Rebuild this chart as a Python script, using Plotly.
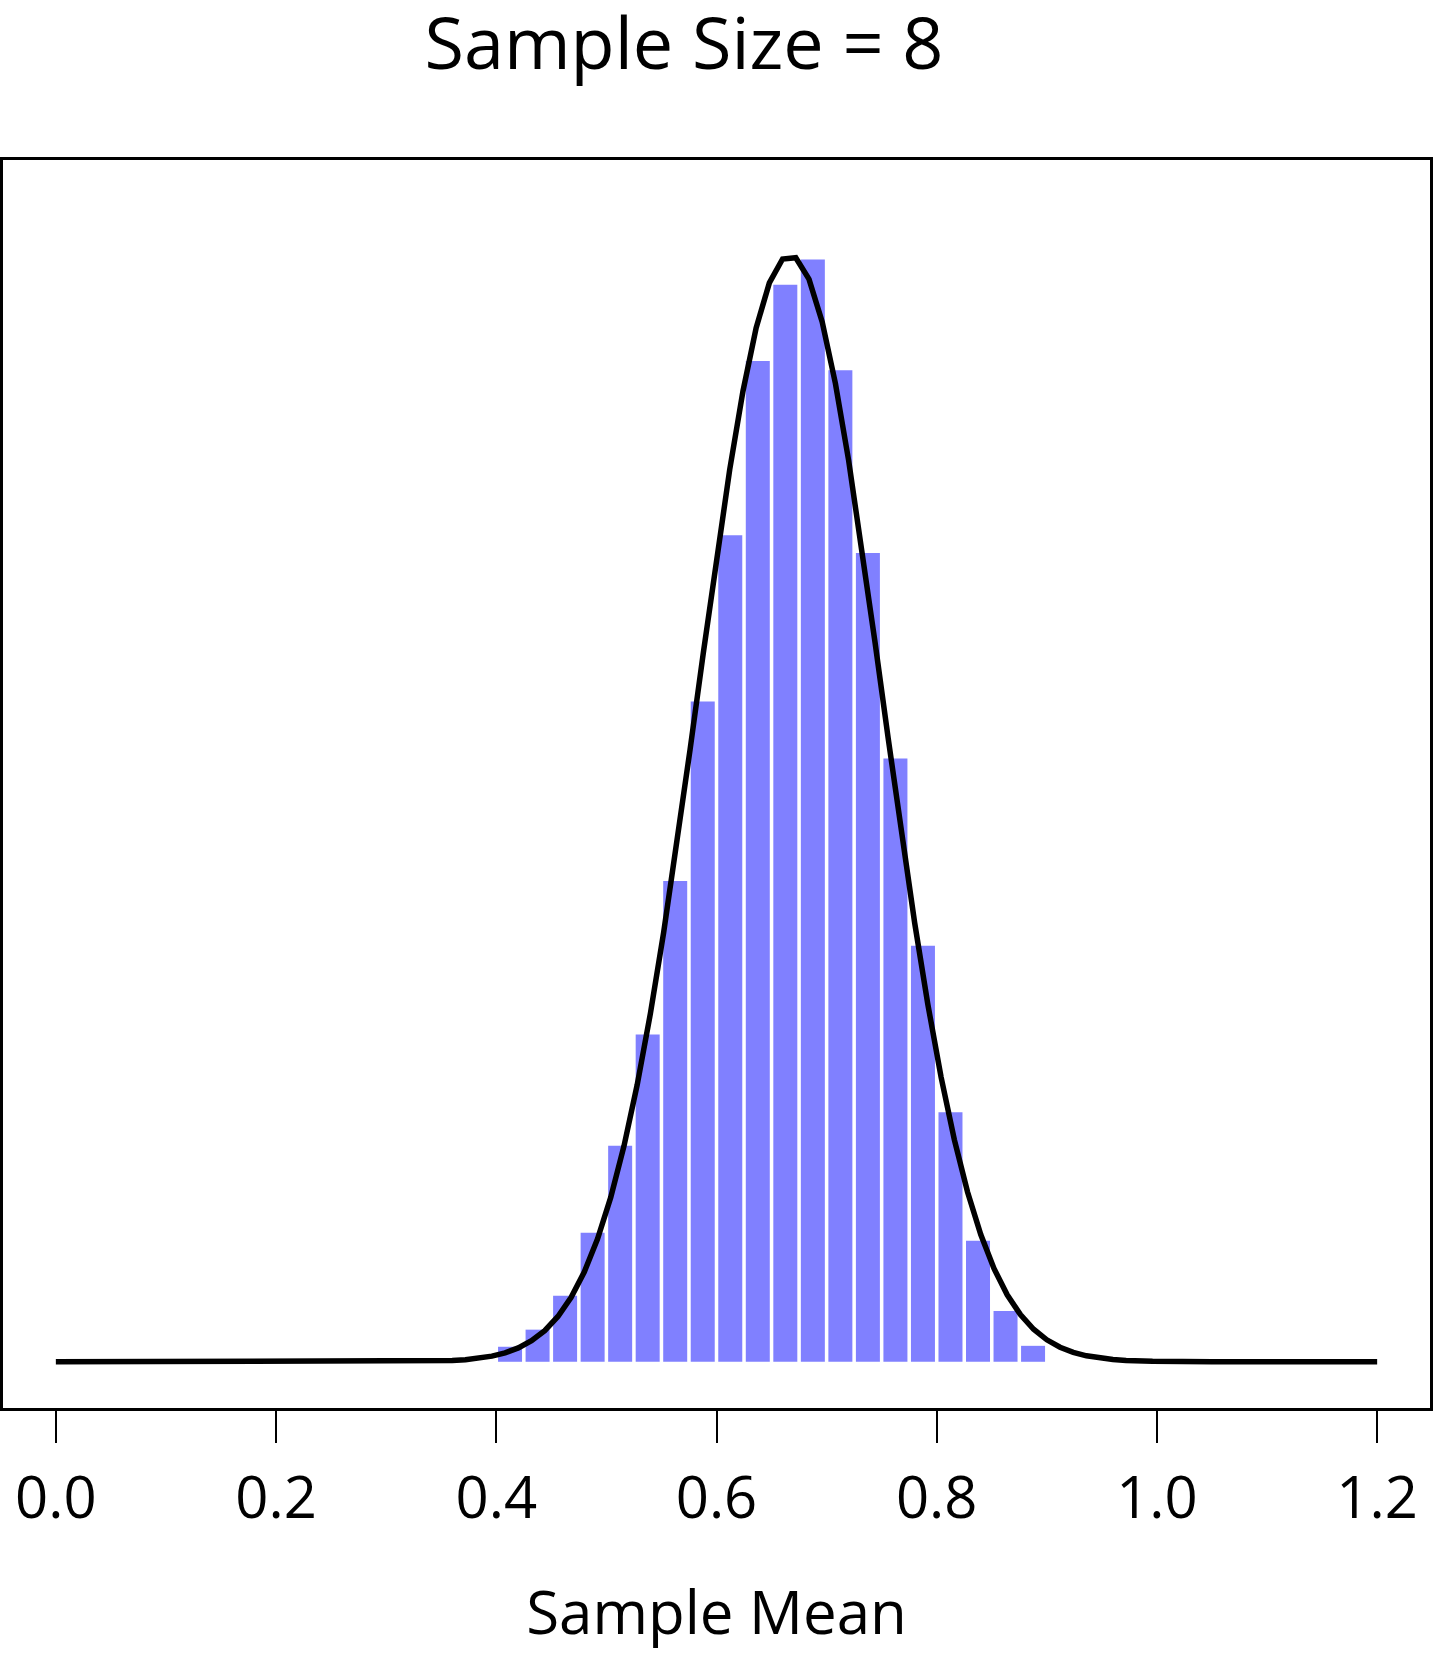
import plotly.graph_objects as go

# histogram of sample means (density), bins of width 0.025 from 0.4 to 0.9
bin_left = [0.400, 0.425, 0.450, 0.475, 0.500, 0.525, 0.550, 0.575, 0.600, 0.625,
            0.650, 0.675, 0.700, 0.725, 0.750, 0.775, 0.800, 0.825, 0.850, 0.875]
bin_density = [0.065, 0.139, 0.286, 0.558, 0.935, 1.416, 2.080, 2.857, 3.576, 4.330,
               4.660, 4.770, 4.290, 3.500, 2.610, 1.800, 1.080, 0.524, 0.220, 0.069]
bin_width = 0.025

# normal curve
curve_x = [0.0, 0.300, 0.336, 0.348, 0.360, 0.372, 0.384, 0.396, 0.408, 0.420, 0.432,
           0.444, 0.456, 0.468, 0.480, 0.492, 0.504, 0.516, 0.528, 0.540, 0.552,
           0.564, 0.576, 0.588, 0.600, 0.612, 0.624, 0.636, 0.648, 0.660, 0.672,
           0.684, 0.696, 0.708, 0.720, 0.732, 0.744, 0.756, 0.768, 0.780, 0.792,
           0.804, 0.816, 0.828, 0.840, 0.852, 0.864, 0.876, 0.888, 0.900, 0.912,
           0.924, 0.936, 0.948, 0.960, 0.972, 0.984, 0.996, 1.050, 1.200]
curve_y = [0.0, 0.0003, 0.0018, 0.0032, 0.0055, 0.0092, 0.0152, 0.0245, 0.0387, 0.0599, 0.0908,
           0.1348, 0.1960, 0.2792, 0.3895, 0.5323, 0.7123, 0.9337, 1.1990, 1.5078, 1.8574,
           2.2412, 2.6486, 3.0659, 3.4761, 3.8602, 4.1990, 4.4737, 4.6684, 4.7717, 4.7772,
           4.6846, 4.4994, 4.2330, 3.9006, 3.5204, 3.1123, 2.6948, 2.2855, 1.8985, 1.5448,
           1.2313, 0.9611, 0.7348, 0.5503, 0.4036, 0.2900, 0.2040, 0.1407, 0.0950, 0.0628,
           0.0407, 0.0258, 0.0160, 0.0098, 0.0058, 0.0034, 0.0019, 0.0001, 0.0]

tick_vals = [0.0, 0.2, 0.4, 0.6, 0.8, 1.0, 1.2]
tick_text = ["0.0", "0.2", "0.4", "0.6", "0.8", "1.0", "1.2"]

FONT = "Open Sans"

bin_mid = [b + bin_width / 2 for b in bin_left]

fig = go.Figure()
fig.add_trace(go.Bar(
    x=bin_mid, y=bin_density,
    width=bin_width - 0.0032,
    marker=dict(color="#8080ff", line=dict(width=0)),
    hoverinfo="skip",
))
fig.add_trace(go.Scatter(
    x=curve_x, y=curve_y, mode="lines",
    line=dict(color="black", width=5.5),
    hoverinfo="skip",
))

fig.update_layout(
    width=1433, height=1654,
    margin=dict(l=3, r=3, t=160, b=246),
    paper_bgcolor="white", plot_bgcolor="white",
    showlegend=False,
    font=dict(family=FONT, color="black"),
    title=dict(text="Sample Size = 8", font=dict(size=72, family=FONT, color="black"),
               x=684 / 1433, xanchor="center", xref="container",
               y=1 - 44 / 1654, yanchor="middle", yref="container"),
)
fig.update_xaxes(
    range=[-0.048, 1.248],
    tickvals=tick_vals, ticktext=tick_text,
    ticks="outside", ticklen=32, tickwidth=2, tickcolor="black",
    tickfont=dict(size=58, family=FONT, color="black"),
    ticklabelstandoff=6,
    showline=True, mirror=True, linecolor="black", linewidth=2.5,
    showgrid=False, zeroline=False,
    title=dict(text="Sample Mean", font=dict(size=60, family=FONT, color="black"), standoff=58),
    automargin=False,
)
fig.update_yaxes(
    range=[-0.2, 5.2],
    showticklabels=False, ticks="",
    showline=True, mirror=True, linecolor="black", linewidth=2.5,
    showgrid=False, zeroline=False,
    automargin=False,
)

# drop the browser's default 8px body margin so the figure sits at the page corner
fig.write_html("out.html", config={"displayModeBar": False},
               post_script="document.body.style.margin='0';")
